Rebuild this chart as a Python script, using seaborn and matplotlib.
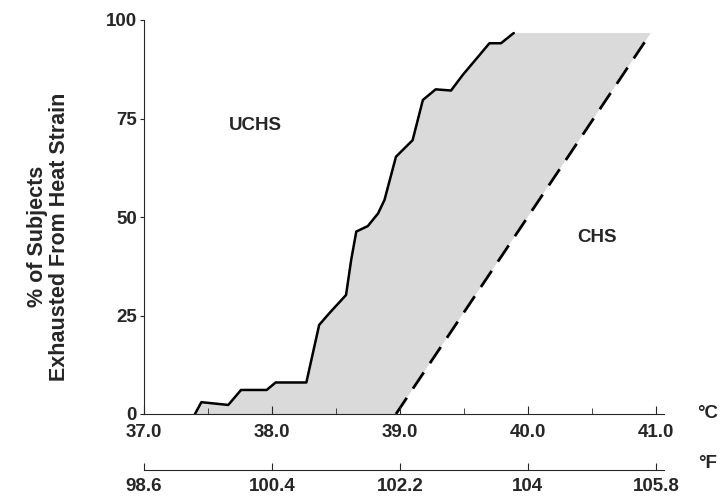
import numpy as np
import pandas as pd
import seaborn as sns
import matplotlib
matplotlib.use("Agg")
import matplotlib.pyplot as plt

# --- data ---
# cumulative % of subjects exhausted vs core temperature (uncompensable heat strain)
uchs_temp_c = [37.40, 37.45, 37.66, 37.76, 37.96, 38.03, 38.27, 38.37, 38.45, 38.58,
               38.62, 38.66, 38.75, 38.83, 38.88, 38.97, 39.10, 39.18, 39.28, 39.40,
               39.49, 39.70, 39.79, 39.89]
uchs_pct = [0, 3.0, 2.3, 6.1, 6.1, 8.0, 8.0, 22.6, 25.6, 30.2,
            39.1, 46.3, 47.7, 50.9, 54.3, 65.3, 69.5, 79.7, 82.4, 82.1,
            86.0, 94.1, 94.1, 96.7]

# compensable heat strain boundary (dashed)
chs_temp_c = [38.97, 40.96]
chs_pct = [0, 96.7]

c_ticks = [37.0, 38.0, 39.0, 40.0, 41.0]
c_minor = [37.5, 38.5, 39.5, 40.5]
f_ticks = [98.6, 100.4, 102.2, 104, 105.8]
f_labels = ["98.6", "100.4", "102.2", "104", "105.8"]
y_ticks = [0, 25, 50, 75, 100]

uchs = pd.DataFrame({"temp": uchs_temp_c, "pct": uchs_pct})
chs = pd.DataFrame({"temp": chs_temp_c, "pct": chs_pct})

sns.set_style("ticks")
plt.rcParams["font.family"] = ["Liberation Sans", "DejaVu Sans"]
plt.rcParams["font.weight"] = "bold"

fig = plt.figure(figsize=(7.26, 5.0), dpi=100)
ax = fig.add_axes([0.198, 0.172, 0.716, 0.788])
ax.set_axisbelow(False)

# shaded band between the two curves
ax.fill(np.concatenate([uchs_temp_c, chs_temp_c[::-1]]),
        np.concatenate([uchs_pct, chs_pct[::-1]]),
        color="#dadada", lw=0, zorder=0)

sns.lineplot(data=uchs, x="temp", y="pct", sort=False, color="black", lw=1.8,
             estimator=None, ax=ax)
sns.lineplot(data=chs, x="temp", y="pct", sort=False, color="black", lw=2,
             estimator=None, ax=ax)
ax.lines[-1].set_dashes([7, 4])

ax.set_xlim(37.0, 41.06)
ax.set_ylim(0, 100)
ax.spines["top"].set_visible(False)
ax.spines["right"].set_visible(False)

ax.set_xticks(c_ticks)
ax.set_xticklabels([f"{t:.1f}" for t in c_ticks])
ax.set_xticks(c_minor, minor=True)
ax.tick_params(axis="x", which="major", direction="in", length=6, pad=7, labelsize=13.5)
ax.tick_params(axis="x", which="minor", direction="in", length=4)
ax.set_yticks(y_ticks)
ax.tick_params(axis="y", direction="out", length=3, pad=2, labelsize=13.5)
ax.set_xlabel("")
ax.set_ylabel("% of Subjects\nExhausted From Heat Strain", fontsize=15.5,
              fontweight="bold", linespacing=1.05)
ax.yaxis.set_label_coords(-0.142, 0.45)

# Fahrenheit scale underneath
sec = ax.secondary_xaxis(-0.142, functions=(lambda c: c * 9 / 5 + 32,
                                            lambda f: (f - 32) * 5 / 9))
sec.set_xticks(f_ticks)
sec.set_xticklabels(f_labels)
sec.tick_params(direction="in", length=5, pad=6, labelsize=13.5)

fig.text(708 / 726, 1 - 414 / 500, "°C", fontsize=13.5, ha="center", va="center")
fig.text(708 / 726, 1 - 464 / 500, "°F", fontsize=13.5, ha="center", va="center")

ax.text(37.87, 73.3, "UCHS", fontsize=13.5, ha="center", va="center")
ax.text(40.54, 44.9, "CHS", fontsize=13.5, ha="center", va="center")

fig.savefig("out.png", dpi=100)
